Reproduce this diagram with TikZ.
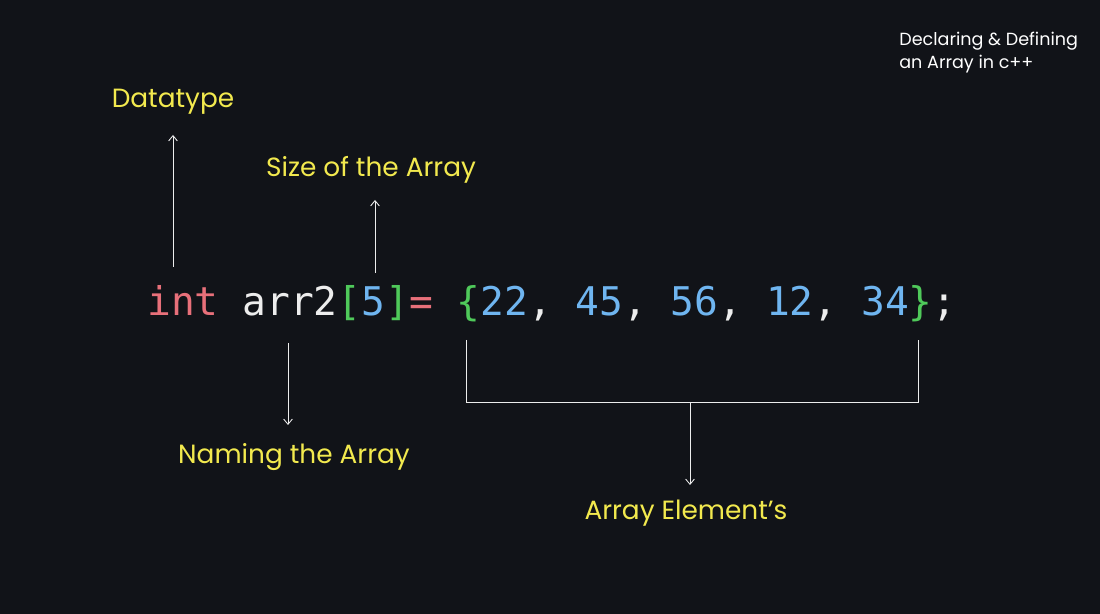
\documentclass[tikz,border=0pt]{standalone}
\usepackage{fontspec}
\setmainfont{Poppins}
\newfontfamily\codefont{DejaVu Sans Mono}
\usetikzlibrary{arrows.meta}
\definecolor{bg}{HTML}{111318}
\definecolor{lab}{HTML}{F2E94E}
\definecolor{kred}{HTML}{E8707A}
\definecolor{kgreen}{HTML}{4FC95A}
\definecolor{kblue}{HTML}{6FB5F0}
\definecolor{kwhite}{HTML}{EDEDED}
\begin{document}
\begin{tikzpicture}[x=0.02cm,y=-0.02cm,
  lbl/.style={text=lab,font=\fontsize{15}{18}\selectfont,inner sep=0},
  conn/.style={draw=kwhite,line width=0.5pt,-{Straight Barb[length=3pt,width=5pt]}},
  brk/.style={draw=kwhite,line width=0.5pt}]
\fill[bg] (0,0) rectangle (1100,614);
\node[anchor=base west,inner sep=0,text=kwhite,font=\codefont\fontsize{22.5}{26}\selectfont] (code) at (147,316)
 {\textcolor{kred}{int} arr2\textcolor{kgreen}{[}\textcolor{kblue}{5}\textcolor{kgreen}{]}\textcolor{kred}{=} \textcolor{kgreen}{\{}\textcolor{kblue}{22}, \textcolor{kblue}{45}, \textcolor{kblue}{56}, \textcolor{kblue}{12}, \textcolor{kblue}{34}\textcolor{kgreen}{\}};};
\node[lbl] (dt) at (173,102) {Datatype};
\node[lbl] (sz) at (371,170) {Size of the Array};
\node[lbl] (nm) at (294,457) {Naming the Array};
\node[lbl] (el) at (686,513) {Array Element’s};
\node[anchor=north west,align=left,text=white,inner sep=0,font=\fontsize{10}{13}\selectfont] (ti) at (899,32) {Declaring \& Defining\\an Array in c++};
\coordinate (a1) at (173,267); \coordinate (a1e) at (173,135);
\coordinate (a2) at (375,273); \coordinate (a2e) at (375,200);
\coordinate (a3) at (288,343); \coordinate (a3e) at (288,425);
\coordinate (b1) at (466,340); \coordinate (b2) at (466,402);
\coordinate (b3) at (918,402); \coordinate (b4) at (918,340);
\coordinate (bm) at (690,402); \coordinate (bme) at (690,485);
\draw[conn] (a1) -- (a1e);
\draw[conn] (a2) -- (a2e);
\draw[conn] (a3) -- (a3e);
\draw[brk] (b1) -- (b2) -- (b3) -- (b4);
\draw[conn] (bm) -- (bme);
\end{tikzpicture}
\end{document}
